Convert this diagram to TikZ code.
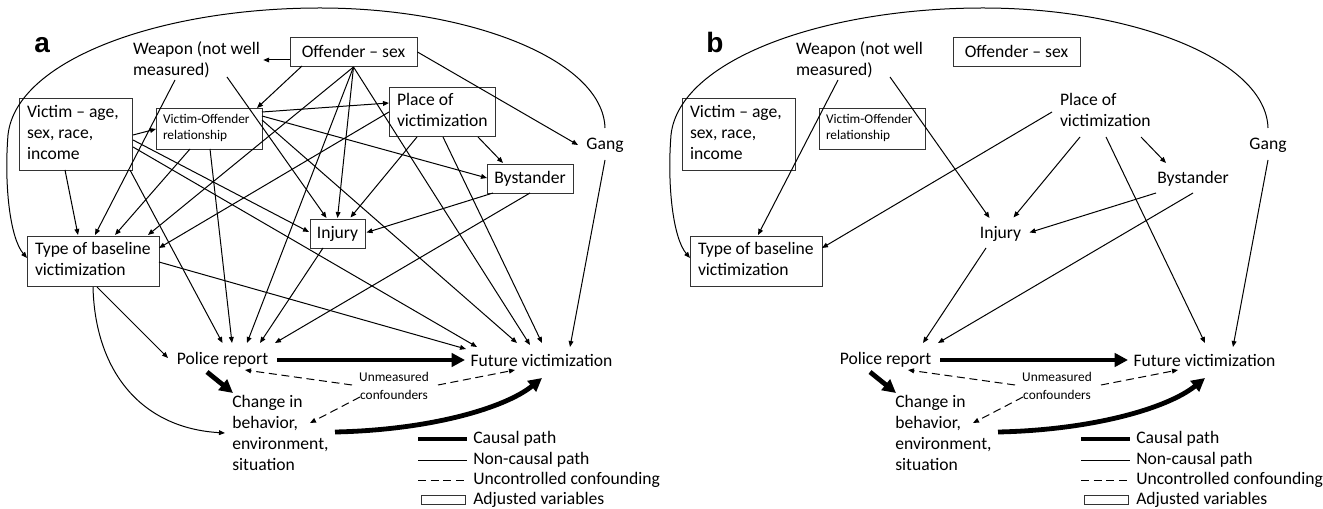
\documentclass[tikz,border=0pt]{standalone}
\usepackage{fontspec}
\setmainfont{Carlito}
\newfontfamily\panelfont{Liberation Sans}
\usetikzlibrary{arrows.meta,calc}
\newcommand{\lftbox}[2]{\makebox[#1][l]{\begin{tabular}{@{}l@{}}#2\end{tabular}}}
\tikzset{
  mainf/.style={font=\fontsize{13.2pt}{15.8pt}\selectfont},
  smallf/.style={font=\fontsize{10pt}{12pt}\selectfont},
  vbox/.style={draw=black!80, line width=0.7pt, inner sep=0pt, mainf},
  pbox/.style={inner sep=0pt, mainf},
  txt/.style={inner sep=0pt, mainf},
  arr/.style={line width=0.75pt, -{Triangle[length=4.5pt,width=3.6pt]}},
  thk/.style={line width=3.6pt, -{Triangle[length=10pt,width=10pt]}},
  dsh/.style={line width=0.75pt, dash pattern=on 6pt off 3.5pt, -{Triangle[length=4.5pt,width=3.6pt]}},
  lbl/.style={font=\panelfont\bfseries\fontsize{21pt}{24pt}\selectfont, anchor=base west, inner sep=0pt}
}
\newcommand{\panelnodes}[2]{%
  \node[vbox, minimum width=95.25pt, minimum height=21.75pt] (#1off) at (353.5,51.5) {Offender – sex};
  \node[vbox, minimum width=84.75pt, minimum height=54pt] (#1vic) at (75.5,134) {\lftbox{72.75pt}{Victim – age,\\sex, race,\\income}};
  \node[vbox, smallf, minimum width=79.5pt, minimum height=30.75pt] (#1vo) at (209,128.5) {\lftbox{69pt}{Victim-Offender\\relationship}};
  \node[vbox, minimum width=99pt, minimum height=37.5pt] (#1typ) at (93,261) {\lftbox{87pt}{Type of baseline\\victimization}};
  \node[#2, minimum width=79.5pt, minimum height=36.75pt] (#1pla) at (442,111.5) {\lftbox{67.5pt}{Place of\\victimization}};
  \node[#2, minimum width=64.5pt, minimum height=21.75pt] (#1bys) at (530,178.5) {Bystander};
  \node[#2, minimum width=41.25pt, minimum height=21.75pt] (#1inj) at (337.5,233.5) {Injury};
  \node[txt, align=left] (#1wea) at (196.5,60) {Weapon (not well\\measured)};
  \node[txt] (#1gang) at (605,145) {Gang};
  \node[txt] (#1pol) at (222.5,360) {Police report};
  \node[txt] (#1fut) at (541.5,360) {Future victimization};
  \node[txt, align=left, anchor=west] (#1chg) at (232,433) {Change in\\behavior,\\environment,\\situation};
  \node[inner sep=0pt, align=center, font=\fontsize{10pt}{13.5pt}\selectfont] (#1conf) at (394,386) {Unmeasured\\confounders};
}
\newcommand{\sharededges}[1]{%
  \draw[arr] ($(#1wea)+(-21.5,20)$) -- ($(#1typ)+(2,-26)$);
  \draw[arr] ($(#1wea)+(30.5,17)$) -- ($(#1inj)+(-11,-15.5)$);
  \draw[arr] ($(#1pla)+(-53,0.5)$) -- ($(#1typ)+(66,-13)$);
  \draw[arr] ($(#1pla)+(-25,25.5)$) -- ($(#1inj)+(13,-16)$);
  \draw[arr] ($(#1pla)+(36,25.5)$) -- ($(#1bys)+(-27,-15.5)$);
  \draw[arr] ($(#1pla)+(1,25.5)$) -- ($(#1fut)+(0.5,-17)$);
  \draw[arr] ($(#1bys)+(-37,14.5)$) -- ($(#1inj)+(29,-1)$);
  \draw[arr] ($(#1bys)+(0,14.5)$) -- ($(#1pol)+(52.5,-17)$);
  \draw[arr] ($(#1inj)+(-14.5,14.5)$) -- ($(#1pol)+(37.5,-17)$);
  \draw[arr] ($(#1gang)+(0,15)$) -- ($(#1fut)+(28.5,-13)$);
  \draw[arr] ($(#1gang)+(0,-17)$) .. controls (603,60) and (470,8) .. (320,8)
      .. controls (160,8) and (16,60) .. (8,135)
      .. controls (4,185) and (10,238) .. ($(#1typ)+(-66,-3)$);
  \draw[thk] ($(#1pol)+(54.5,0)$) -- ($(#1fut)+(-76.5,0)$);
  \draw[thk] ($(#1pol)+(-15.5,12)$) -- ($(#1chg.west)+(1,-40)$);
  \draw[thk] ($(#1chg.west)+(103,-1)$) .. controls (430,430) and (505,408) .. ($(#1fut)+(0.5,18)$);
  \draw[dsh] ($(#1conf)+(-42,-1)$) -- ($(#1pol)+(22.5,10)$);
  \draw[dsh] ($(#1conf)+(-34,11)$) -- ($(#1chg.west)+(78,-10)$);
  \draw[dsh] ($(#1conf)+(44,-1)$) -- ($(#1fut)+(-26.5,10)$);
  \node[txt, anchor=west] (#1la) at (473,439) {Causal path};
  \node[txt, anchor=west] (#1lb) at (473,460) {Non-causal path};
  \node[txt, anchor=west] (#1lc) at (473,480) {Uncontrolled confounding};
  \node[txt, anchor=west] (#1ld) at (473,500) {Adjusted variables};
  \draw[line width=3.6pt] ($(#1la.west)+(-55,0)$) -- ($(#1la.west)+(-6,0)$);
  \draw[line width=0.75pt] ($(#1lb.west)+(-55,0)$) -- ($(#1lb.west)+(-6,0)$);
  \draw[line width=0.75pt, dash pattern=on 6pt off 3.5pt] ($(#1lc.west)+(-55,0)$) -- ($(#1lc.west)+(-6,0)$);
  \draw[draw=black!80, line width=0.7pt] ($(#1ld.west)+(-52,-4.5)$) rectangle ($(#1ld.west)+(-8,4.5)$);
}
\begin{document}
\begin{tikzpicture}[x=0.75pt,y=-0.75pt]
\fill[white] (0,0) rectangle (1323,509);
\useasboundingbox (0,0) rectangle (1323,509);
\node[lbl] (pa) at (34,53) {a};
\node[lbl] (pb) at (706,53) {b};
% panel a
\begin{scope}
\panelnodes{a}{vbox}
\sharededges{a}
\draw[arr] ($(aoff.west)+(0,8.5)$) -- ($(awea.east)+(3,0)$);
\draw[arr] ($(aoff)+(-51.5,14.5)$) -- ($(avo)+(48,-20.5)$);
\draw[arr] ($(aoff.east)+(0,0.5)$) -- ($(agang)+(-27,0)$);
\draw[arr] ($(aoff)+(0,15.5)$) -- ($(atyp)+(55,-26)$);
\draw[arr] ($(aoff)+(0,15.5)$) -- ($(apol)+(24.5,-17)$);
\draw[arr] ($(aoff)+(0,15.5)$) -- ($(ainj)+(0,-15.5)$);
\draw[arr] ($(aoff)+(0,15.5)$) -- ($(afut)+(-11.5,-15)$);
\draw[arr] ($(avic)+(57.5,1)$) -- ($(avo)+(-53,0.5)$);
\draw[arr] ($(avic)+(-10.5,36)$) -- ($(atyp)+(-15,-26)$);
\draw[arr] ($(avic)+(57.5,6)$) -- ($(ainj)+(-28.5,-1.5)$);
\draw[arr] ($(avic)+(54.5,36)$) -- ($(apol)+(0,-17)$);
\draw[arr] ($(avic)+(57.5,13)$) -- ($(afut)+(-64.5,-13)$);
\draw[arr] ($(avo)+(53,-16.5)$) -- ($(apla)+(-53,-8.5)$);
\draw[arr] ($(avo)+(53,-12.5)$) -- ($(abys)+(-43,-0.5)$);
\draw[arr] ($(avo)+(53,-8.5)$) -- ($(afut)+(-24.5,-17)$);
\draw[arr] ($(avo)+(1,20.5)$) -- ($(apol)+(9.5,-17)$);
\draw[arr] ($(avo)+(-19,20.5)$) -- ($(atyp)+(22,-26)$);
\draw[arr] ($(atyp)+(4,26)$) -- ($(apol)+(-54.5,-2)$);
\draw[arr] ($(atyp)+(66,1)$) -- ($(afut)+(-75.5,-11)$);
\draw[arr] ($(atyp)+(0,26)$) .. controls (95,370) and (140,428) .. ($(achg.west)+(-7,0)$);
\end{scope}
% panel b
\begin{scope}[xshift=497.25pt]
\panelnodes{b}{pbox}
\sharededges{b}
\end{scope}
\end{tikzpicture}
\end{document}
